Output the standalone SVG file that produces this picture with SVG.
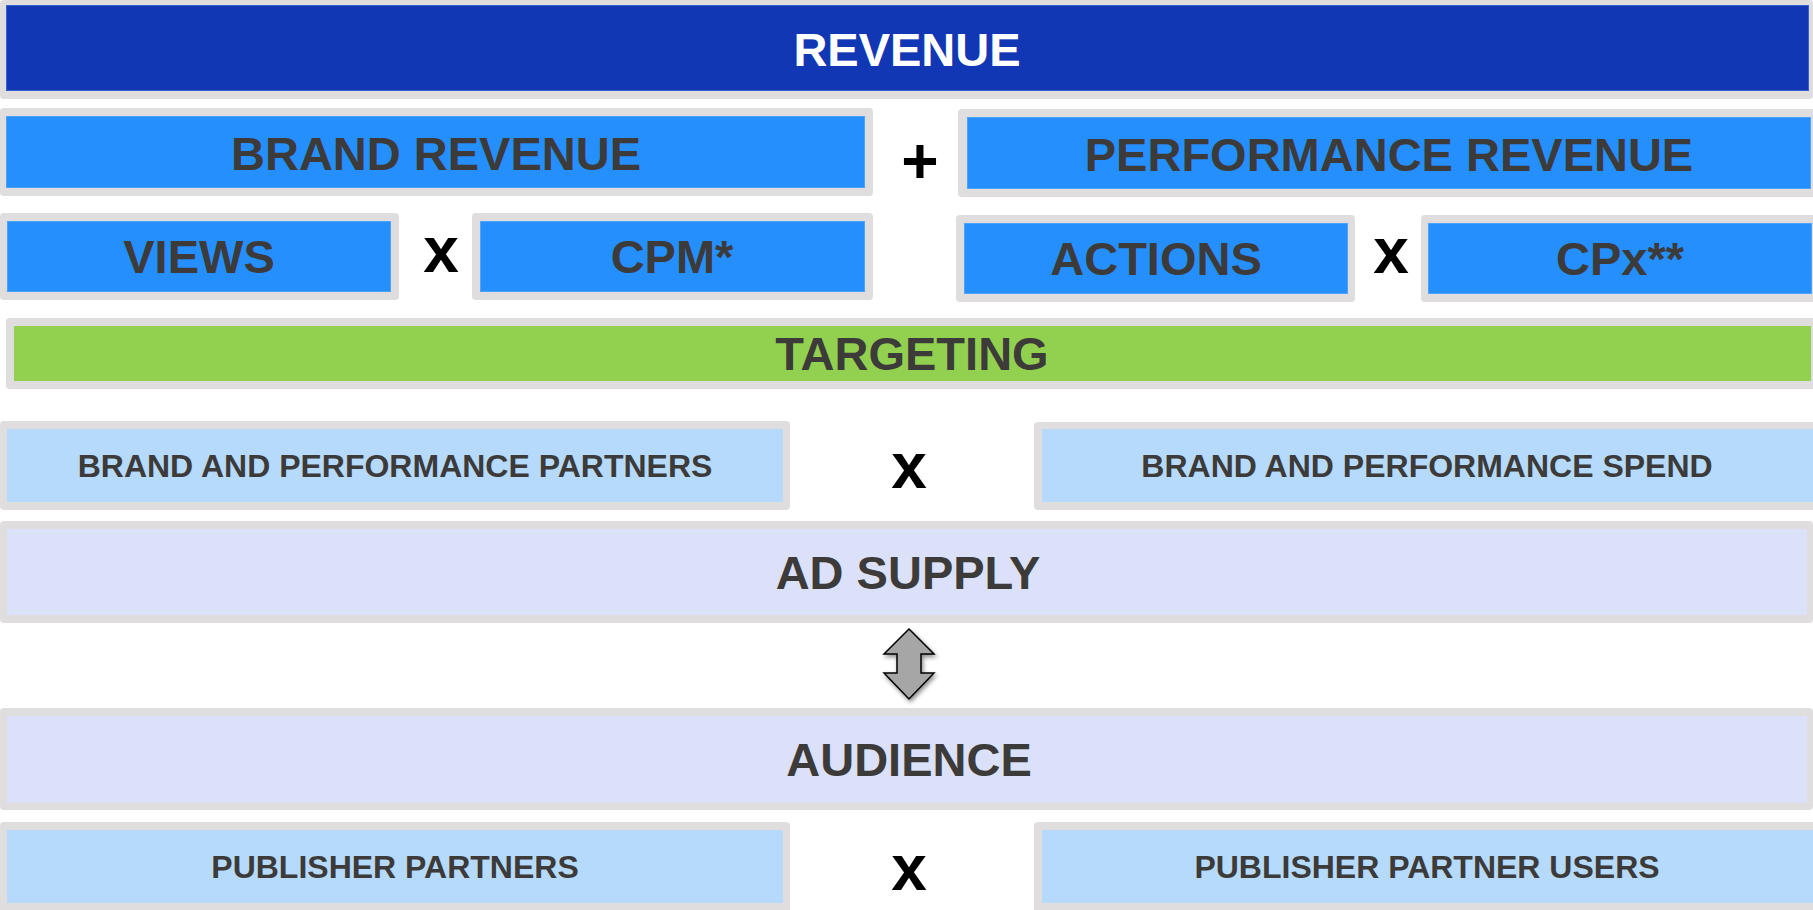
<svg xmlns="http://www.w3.org/2000/svg" width="1813" height="910" viewBox="0 0 1813 910">
  <style>
    .frame { fill: #dfdddd; }
    .dark { fill: #1137b4; stroke: #3a5fd2; stroke-width: 1; }
    .bright { fill: #258ffe; stroke: #4ea3ff; stroke-width: 1; }
    .green { fill: #92d150; }
    .pale { fill: #b6dafb; }
    .lav { fill: #dae1f8; }
    text { font-family: "Liberation Sans", Arial, sans-serif; font-weight: bold; text-anchor: middle; }
    .big { font-size: 47px; fill: #3d3a3a; }
    .white { font-size: 47px; fill: #ffffff; }
    .small { font-size: 32px; fill: #3d3a3a; }
    .op { font-size: 64px; fill: #000000; }
  </style>
  <defs>
    <filter id="shadow" x="-40%" y="-20%" width="180%" height="150%">
      <feDropShadow dx="1.5" dy="2.5" stdDeviation="2" flood-color="#000000" flood-opacity="0.45"/>
    </filter>
  </defs>

  <rect width="1813" height="910" fill="#ffffff"/>

  <!-- top level -->
  <g id="revenue">
    <rect class="frame" x="0" y="0" width="1813" height="99" rx="4"/>
    <rect class="dark" x="6.5" y="5.5" width="1802" height="85"/>
    <text class="white" x="907" y="66">REVENUE</text>
  </g>

  <!-- revenue split -->
  <g id="brand-revenue">
    <rect class="frame" x="0" y="108" width="873" height="88" rx="4"/>
    <rect class="bright" x="6.5" y="116.5" width="858" height="71"/>
    <text class="big" x="436" y="170">BRAND REVENUE</text>
  </g>
  <text class="op" x="920" y="183">+</text>
  <g id="performance-revenue">
    <rect class="frame" x="958" y="109" width="860" height="88" rx="4"/>
    <rect class="bright" x="967.5" y="117.5" width="843" height="71"/>
    <text class="big" x="1389" y="171">PERFORMANCE REVENUE</text>
  </g>

  <!-- factors -->
  <g id="views">
    <rect class="frame" x="0" y="213" width="399" height="87" rx="4"/>
    <rect class="bright" x="7.5" y="221.5" width="383" height="70"/>
    <text class="big" x="199" y="273">VIEWS</text>
  </g>
  <text class="op" x="441" y="272">x</text>
  <g id="cpm">
    <rect class="frame" x="472" y="213" width="401" height="87" rx="4"/>
    <rect class="bright" x="480.5" y="221.5" width="384" height="70"/>
    <text class="big" x="672" y="273">CPM*</text>
  </g>
  <g id="actions">
    <rect class="frame" x="956" y="215" width="399" height="87" rx="4"/>
    <rect class="bright" x="964.5" y="223.5" width="383" height="70"/>
    <text class="big" x="1156" y="275">ACTIONS</text>
  </g>
  <text class="op" x="1391" y="273">x</text>
  <g id="cpx">
    <rect class="frame" x="1421" y="215" width="397" height="87" rx="4"/>
    <rect class="bright" x="1428.5" y="223.5" width="383" height="70"/>
    <text class="big" x="1620" y="275">CPx**</text>
  </g>

  <g id="targeting">
    <rect class="frame" x="6" y="318" width="1812" height="71" rx="4"/>
    <rect class="green" x="14" y="326" width="1797" height="55"/>
    <text class="big" x="912" y="370">TARGETING</text>
  </g>

  <!-- demand side -->
  <g id="brand-performance-partners">
    <rect class="frame" x="0" y="421" width="790" height="89" rx="4"/>
    <rect class="pale" x="7" y="429" width="776" height="73"/>
    <text class="small" x="395" y="477">BRAND AND PERFORMANCE PARTNERS</text>
  </g>
  <text class="op" x="909" y="488">x</text>
  <g id="brand-performance-spend">
    <rect class="frame" x="1034" y="422" width="784" height="88" rx="4"/>
    <rect class="pale" x="1042" y="429" width="771" height="73"/>
    <text class="small" x="1427" y="477">BRAND AND PERFORMANCE SPEND</text>
  </g>

  <g id="ad-supply">
    <rect class="frame" x="0" y="521" width="1813" height="102" rx="4"/>
    <rect class="lav" x="7" y="529" width="1800" height="86"/>
    <text class="big" x="908" y="589">AD SUPPLY</text>
  </g>

  <g id="connectors">
    <polygon points="909,629 934,654 921,654 921,673 934,673 909,699 884,673 897,673 897,654 884,654"
             fill="#a6a6a6" stroke="#000000" stroke-width="1.5" stroke-linejoin="miter" filter="url(#shadow)"/>
  </g>

  <!-- supply side -->
  <g id="audience">
    <rect class="frame" x="0" y="708" width="1813" height="102" rx="4"/>
    <rect class="lav" x="7" y="716" width="1800" height="87"/>
    <text class="big" x="909" y="776">AUDIENCE</text>
  </g>

  <g id="publisher-partners">
    <rect class="frame" x="0" y="822" width="790" height="92" rx="4"/>
    <rect class="pale" x="7" y="830" width="776" height="73"/>
    <text class="small" x="395" y="878">PUBLISHER PARTNERS</text>
  </g>
  <text class="op" x="909" y="890">x</text>
  <g id="publisher-partner-users">
    <rect class="frame" x="1034" y="822" width="784" height="92" rx="4"/>
    <rect class="pale" x="1042" y="830" width="771" height="73"/>
    <text class="small" x="1427" y="878">PUBLISHER PARTNER USERS</text>
  </g>
</svg>
